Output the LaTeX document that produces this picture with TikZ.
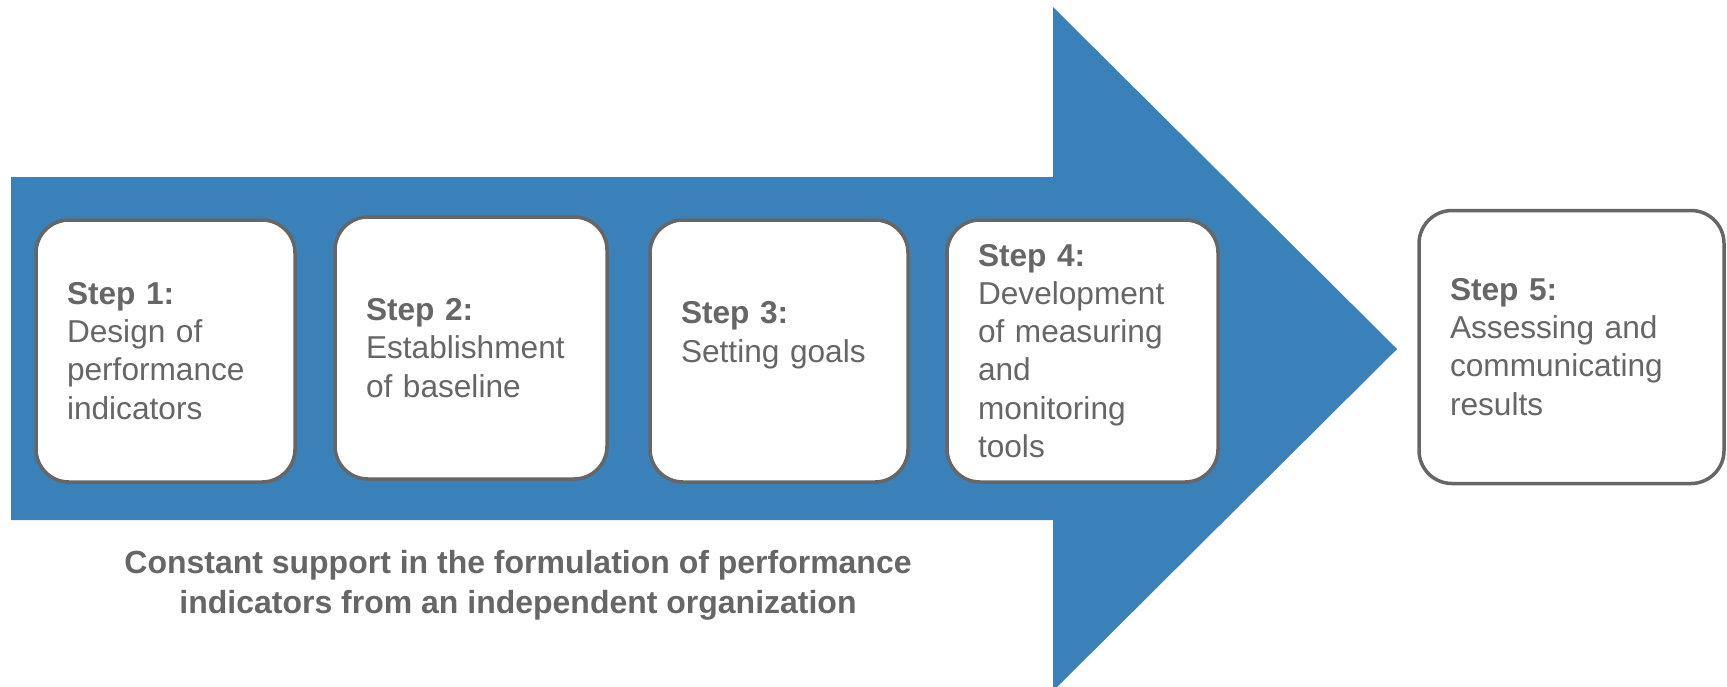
\documentclass[tikz,border=0pt]{standalone}
\usepackage{fontspec}
\setmainfont{Liberation Sans}
\usetikzlibrary{positioning}
\definecolor{flowblue}{HTML}{3A80B9}
\definecolor{txtgray}{HTML}{666666}

\begin{document}
\begin{tikzpicture}[x=1cm,y=1cm,
  stepbox/.style={draw=txtgray,line width=0.035cm,fill=white,
    rounded corners=0.33cm,inner xsep=0.31cm,inner ysep=0pt,
    align=left,text=txtgray,font=\fontsize{9}{10.85}\selectfont}]
  \useasboundingbox (0,0) rectangle (17.27,6.86);
  % big arrow
  \fill[flowblue] (0.11,5.09) -- (10.53,5.09) -- (10.53,6.79) -- (13.97,3.37)
    -- (10.53,-0.05) -- (10.53,1.66) -- (0.11,1.66) -- cycle;
  \node[stepbox,text width=1.97cm,minimum height=2.62cm] (s1) at (1.655,3.35)
    {\textbf{Step 1:}\\Design of\\performance\\indicators};
  \node[stepbox,text width=2.10cm,minimum height=2.62cm] (s2) at (4.71,3.38)
    {\textbf{Step 2:}\\Establishment\\of baseline};
  \node[stepbox,text width=1.96cm,minimum height=2.62cm] (s3) at (7.79,3.35)
    {\textbf{Step 3:}\\Setting goals\\\mbox{}};
  \node[stepbox,text width=2.09cm,minimum height=2.62cm] (s4) at (10.825,3.35)
    {\textbf{Step 4:}\\Development\\of measuring\\and\\monitoring\\tools};
  \node[stepbox,text width=2.43cm,minimum height=2.73cm] (s5) at (15.715,3.39)
    {\textbf{Step 5:}\\Assessing and\\communicating\\results};
  \node[align=center,text=txtgray,font=\bfseries\fontsize{9.1}{11.4}\selectfont]
    (note) at (5.18,1.01)
    {Constant support in the formulation of performance\\
     indicators from an independent organization};
\end{tikzpicture}
\end{document}
